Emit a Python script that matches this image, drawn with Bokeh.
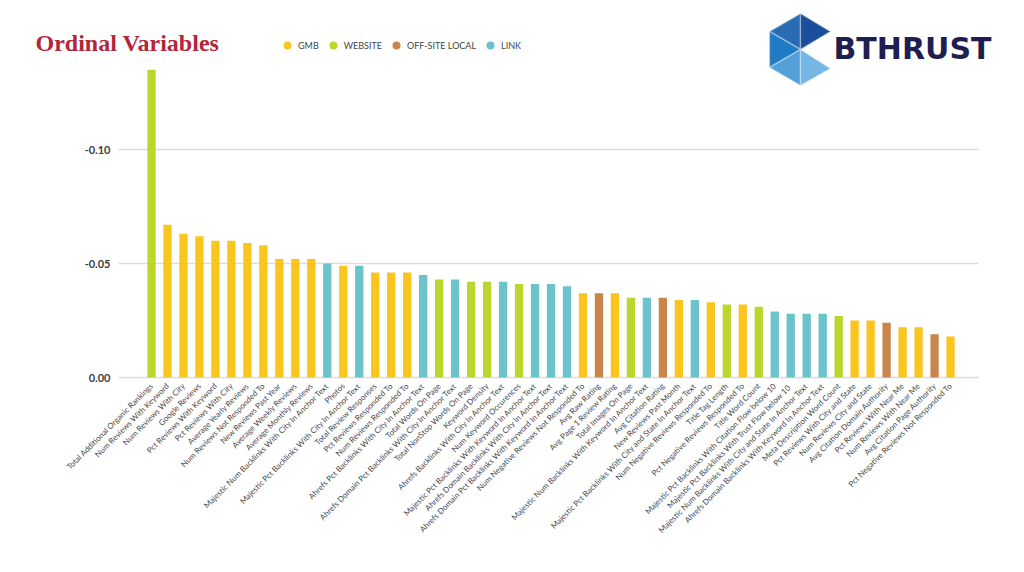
import math
from bokeh.plotting import figure
from bokeh.models import (Range1d, FixedTicker, NumeralTickFormatter, Label, PolyAnnotation,
                          Legend, LegendItem, ColumnDataSource, LinearAxis)
from bokeh.transform import factor_cmap
from bokeh.embed import file_html
from bokeh.resources import INLINE

# ---------------- data ----------------
variables = [
    "Total Additional Organic Rankings",
    "Num Reviews With Keyword",
    "Num Reviews With City",
    "Google Reviews",
    "Pct Reviews With Keyword",
    "Pct Reviews With City",
    "Average Yearly Reviews",
    "Num Reviews Not Responded To",
    "New Reviews Past Year",
    "Average Weekly Reviews",
    "Average Monthly Reviews",
    "Majestic Num Backlinks With City In Anchor Text",
    "Photos",
    "Majestic Pct Backlinks With City In Anchor Text",
    "Total Review Responses",
    "Pct Reviews Responded To",
    "Num Reviews Responded To",
    "Ahrefs Pct Backlinks With City In Anchor Text",
    "Total Words On Page",
    "Ahrefs Domain Pct Backlinks With City In Anchor Text",
    "Total NonStop Words On Page",
    "Keyword Density",
    "Ahrefs Backlinks With City In Anchor Text",
    "Num Keyword Occurences",
    "Majestic Pct Backlinks With Keyword In Anchor Text",
    "Ahrefs Domain Backlinks With City In Anchor Text",
    "Ahrefs Domain Pct Backlinks With Keyword In Anchor Text",
    "Num Negative Reviews Not Responded To",
    "Avg Raw Rating",
    "Avg Page 1 Review Rating",
    "Total Images On Page",
    "Majestic Num Backlinks With Keyword In Anchor Text",
    "Avg Citation Rating",
    "New Reviews Past Month",
    "Majestic Pct Backlinks With City and State In Anchor Text",
    "Num Negative Reviews Responded To",
    "Title Tag Length",
    "Pct Negative Reviews Responded To",
    "Title Word Count",
    "Majestic Pct Backlinks With Citation Flow below 10",
    "Majestic Pct Backlinks With  Trust Flow below 10",
    "Majestic Num Backlinks With City and State In Anchor Text",
    "Ahrefs Domain Backlinks With Keyword In Anchor Text",
    "Meta Description Word Count",
    "Pct Reviews With City and State",
    "Num Reviews City and State",
    "Avg Citation Domain Authority",
    "Pct Reviews With Near Me",
    "Num Reviews With Near Me",
    "Avg Citation Page Authority",
    "Pct Negative Reviews Not Responded To",
]

values = [
    -0.135, -0.067, -0.063, -0.062, -0.060, -0.060, -0.059, -0.058, -0.052, -0.052,
    -0.052, -0.050, -0.049, -0.049, -0.046, -0.046, -0.046, -0.045, -0.043, -0.043,
    -0.042, -0.042, -0.042, -0.041, -0.041, -0.041, -0.040, -0.037, -0.037, -0.037,
    -0.035, -0.035, -0.035, -0.034, -0.034, -0.033, -0.032, -0.032, -0.031, -0.029,
    -0.028, -0.028, -0.028, -0.027, -0.025, -0.025, -0.024, -0.022, -0.022, -0.019,
    -0.018,
]

groups = [
    "WEBSITE", "GMB", "GMB", "GMB", "GMB", "GMB", "GMB", "GMB", "GMB", "GMB",
    "GMB", "LINK", "GMB", "LINK", "GMB", "GMB", "GMB", "LINK", "WEBSITE", "LINK",
    "WEBSITE", "WEBSITE", "LINK", "WEBSITE", "LINK", "LINK", "LINK", "GMB", "OFF-SITE LOCAL", "GMB",
    "WEBSITE", "LINK", "OFF-SITE LOCAL", "GMB", "LINK", "GMB", "WEBSITE", "GMB", "WEBSITE", "LINK",
    "LINK", "LINK", "LINK", "WEBSITE", "GMB", "GMB", "OFF-SITE LOCAL", "GMB", "GMB", "OFF-SITE LOCAL",
    "GMB",
]

group_names = ["GMB", "WEBSITE", "OFF-SITE LOCAL", "LINK"]
group_colors = ["#f9c51f", "#bdd62d", "#c8864d", "#6bc3cc"]

y_ticks = [0.0, -0.05, -0.10]

# ---------------- layout constants ----------------
PLOT_X0, PLOT_X1 = -2.065, 51.75      # visible extent of the plotting area (category units)
ZERO_PX = 377                          # page y of the zero line
BELOW_PX = 6                           # frame extends a little below the zero line
FRAME_H = ZERO_PX + BELOW_PX
CANVAS_W = 1016
PX_PER_VAL = 2280.0

positions = list(range(len(variables)))
source = ColumnDataSource(dict(x=positions, top=values, group=groups, name=variables))

px_per_unit = 860 / (PLOT_X1 - PLOT_X0)
x_start = PLOT_X0 - 118 / px_per_unit
x_end = PLOT_X1 + (CANVAS_W - 978) / px_per_unit

p = figure(
    frame_width=CANVAS_W, frame_height=FRAME_H,
    min_border_left=0, min_border_top=0, min_border_right=0, min_border_bottom=560 - FRAME_H,
    x_range=Range1d(x_start, x_end),
    y_range=Range1d(BELOW_PX / PX_PER_VAL, -ZERO_PX / PX_PER_VAL),
    y_axis_location=None,
    output_backend="svg", toolbar_location=None,
)
p.outline_line_color = None
p.background_fill_color = "white"
p.border_fill_color = "white"
p.xgrid.visible = False
p.ygrid.visible = False

# horizontal grid lines across the plotting area only
p.segment(x0=[PLOT_X0] * len(y_ticks), x1=[PLOT_X1] * len(y_ticks), y0=y_ticks, y1=y_ticks,
          line_color="#dcdcdc", line_width=1.6, level="underlay")

p.vbar(x="x", top="top", bottom=0, width=0.52, source=source, line_color=None,
       fill_color=factor_cmap("group", palette=group_colors, factors=group_names))

# y axis placed at the left edge of the plotting area
yax = LinearAxis(fixed_location=PLOT_X0, ticker=FixedTicker(ticks=y_ticks),
                 formatter=NumeralTickFormatter(format="0.00"))
yax.axis_line_color = None
yax.major_tick_line_color = None
yax.minor_tick_line_color = None
yax.major_tick_out = 0
yax.major_tick_in = 0
yax.major_label_standoff = 8
yax.major_label_text_font = "Lato"
yax.major_label_text_font_style = "bold"
yax.major_label_text_font_size = "11px"
yax.major_label_text_color = "#404040"
p.add_layout(yax, "left")

p.xaxis.ticker = FixedTicker(ticks=positions)
p.xaxis.bounds = (PLOT_X0, PLOT_X1)
p.xaxis.major_label_overrides = {i: n for i, n in zip(positions, variables)}
p.xaxis.major_label_orientation = math.pi / 4
p.xaxis.axis_line_color = None
p.xaxis.major_tick_line_color = None
p.xaxis.minor_tick_line_color = None
p.xaxis.major_tick_out = 0
p.xaxis.major_tick_in = 0
p.xaxis.major_label_standoff = 1
p.xaxis.major_label_text_font = "Lato"
p.xaxis.major_label_text_font_size = "8px"
p.xaxis.major_label_text_color = "#4a4a4a"

# legend (dummy marker renderers only provide the legend swatches)
nan = float("nan")
items = []
for name, col in zip(group_names, group_colors):
    r = p.scatter(x=[nan], y=[nan], marker="circle", size=8, fill_color=col, line_color=None)
    items.append(LegendItem(label=name, renderers=[r]))
legend = Legend(items=items, orientation="horizontal", location=(277, FRAME_H - 55),
                glyph_width=20, glyph_height=20, label_standoff=1, spacing=4,
                padding=0, margin=0, border_line_color=None, background_fill_alpha=0,
                label_text_font="Lato", label_text_font_size="9px",
                label_text_color="#444444", label_height=20)
p.add_layout(legend, "center")

# title
p.add_layout(Label(x=35, y=FRAME_H - 51 + 9, x_units="screen", y_units="screen", text="Ordinal Variables",
                   text_font="Liberation Serif", text_font_style="bold", text_font_size="24px",
                   text_color="#b3253a", text_baseline="alphabetic"))

# logo (screen units relative to the frame: x from left, y up from the frame bottom)
def sc(pts):
    return [px for px, py in pts], [FRAME_H - py for px, py in pts]

center = (800, 49)
hexv = {"t": (800, 13), "ur": (830, 31), "lr": (830, 68), "b": (800, 85), "ll": (769, 67), "ul": (769, 31)}
pieces = [
    (("ul", "t"), "#2a6cb4"),
    (("t", "ur"), "#1b4d9b"),
    (("ll", "ul"), "#1f7bc3"),
    (("b", "ll"), "#549fd8"),
    (("lr", "b"), "#74b6e4"),
]
for (a, b), col in pieces:
    xs, ys = sc([hexv[a], hexv[b], center])
    p.add_layout(PolyAnnotation(xs=xs, ys=ys, xs_units="screen", ys_units="screen",
                                fill_color=col, fill_alpha=1.0, line_color="white", line_width=1.5))

p.add_layout(Label(x=833, y=FRAME_H - 60 + 12, x_units="screen", y_units="screen", text="BTHRUST",
                   text_font="DejaVu Sans", text_font_style="bold", text_font_size="30px",
                   text_color="#1f1e50", text_baseline="alphabetic"))

open("out.html", "w").write(file_html(p, INLINE))
